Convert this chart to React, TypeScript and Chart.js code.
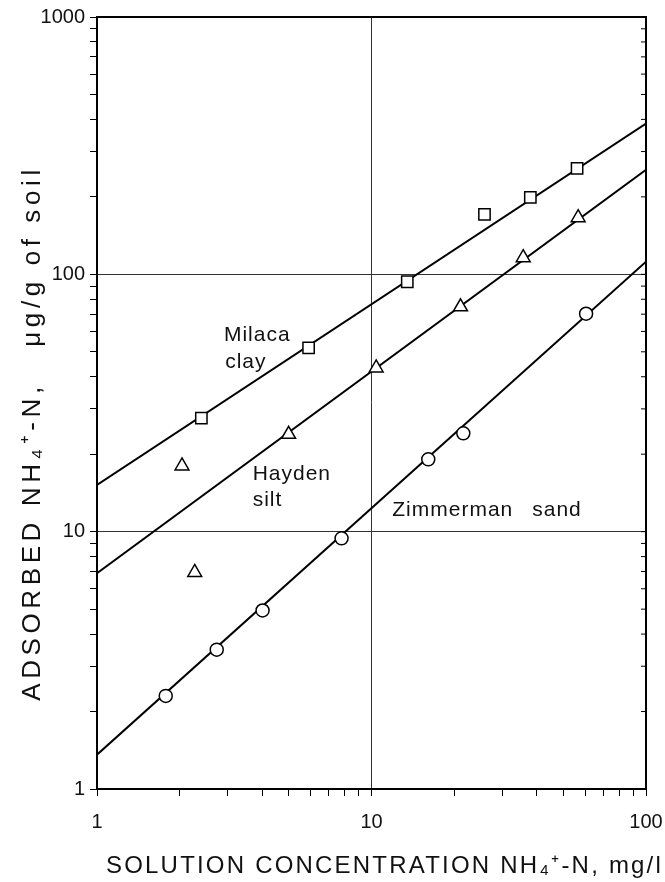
import React, { useEffect, useRef } from 'react';
import { Chart, registerables } from 'chart.js';

Chart.register(...registerables);

// Measured points (solution conc. mg/l, adsorbed µg/g)
const milacaX = [2.4, 5.9, 13.5, 25.8, 37.9, 56.1];
const milacaY = [27.6, 51.8, 93.6, 171, 199, 258];
const haydenX = [2.04, 2.27, 4.99, 10.4, 21.1, 35.7, 56.6];
const haydenY = [18.0, 6.94, 23.9, 43.3, 74.8, 116, 166];
const zimX = [1.78, 2.73, 4.01, 7.78, 16.1, 21.6, 60.5];
const zimY = [2.3, 3.48, 4.94, 9.42, 19.1, 24.1, 70.3];
const zimDotX = [21.6];
const zimDotY = [24.1];

// Fitted isotherm lines (end points at x = 1 and x = 100)
const fitX = [1, 100];
const milacaFit = [15.2, 385];
const haydenFit = [6.9, 255];
const zimFit = [1.36, 112];

// Axis ticks
const xTickValues = [1, 2, 3, 4, 5, 6, 7, 8, 9, 10, 20, 30, 40, 50, 60, 70, 80, 90, 100];
const yTickValues = [1, 2, 3, 4, 5, 6, 7, 8, 9, 10, 20, 30, 40, 50, 60, 70, 80, 90, 100, 200, 300, 400, 500, 600, 700, 800, 900, 1000];
const xTickLabels = ['1', '10', '100'];
const yTickLabels = ['1', '10', '100', '1000'];
const xGridValues = [10];
const yGridValues = [10, 100];

const xTitle = 'SOLUTION CONCENTRATION NH\u2084\u207A-N, mg/l';
const yTitle = 'ADSORBED NH\u2084\u207A-N,   \u03BCg/g of soil';

const curveLabels = [
  { text: 'Milaca', x: 2.9, y: 58 },
  { text: 'clay', x: 2.93, y: 45.7 },
  { text: 'Hayden', x: 3.69, y: 16.7 },
  { text: 'silt', x: 3.69, y: 13.2 },
  { text: 'Zimmerman', x: 11.9, y: 12.1 },
  { text: 'sand', x: 38.5, y: 12.1 },
];

const FONT = '"Liberation Sans", Arial, sans-serif';

const toPts = (xs: number[], ys: number[]) => xs.map((x, i) => ({ x, y: ys[i] }));

export default function App() {
  const ref = useRef<HTMLCanvasElement | null>(null);

  useEffect(() => {
    document.body.style.margin = '0';
    const canvas = ref.current;
    if (!canvas) return;

    const decor = {
      id: 'decor',
      afterDraw(chart: any) {
        const { ctx, chartArea, scales } = chart;
        const { left, right, top, bottom } = chartArea;
        ctx.save();
        // frame top/right
        ctx.strokeStyle = '#000';
        ctx.lineWidth = 2;
        ctx.beginPath();
        ctx.moveTo(left, top);
        ctx.lineTo(right, top);
        ctx.lineTo(right, bottom);
        ctx.stroke();
        // right-side small ticks
        ctx.lineWidth = 1;
        for (const v of yTickValues) {
          const py = scales.y.getPixelForValue(v);
          ctx.beginPath();
          ctx.moveTo(right, py);
          ctx.lineTo(right - 5, py);
          ctx.stroke();
        }
        // curve labels
        ctx.fillStyle = '#111';
        ctx.font = `21px ${FONT}`;
        (ctx as any).letterSpacing = '1px';
        ctx.textAlign = 'left';
        ctx.textBaseline = 'middle';
        for (const l of curveLabels) {
          ctx.fillText(l.text, scales.x.getPixelForValue(l.x), scales.y.getPixelForValue(l.y));
        }
        // axis titles
        ctx.font = `24px ${FONT}`;
        (ctx as any).letterSpacing = '2.2px';
        ctx.textAlign = 'center';
        ctx.fillText(xTitle, (left + right) / 2 + 13, chart.height - 16);
        ctx.save();
        ctx.translate(33, (top + bottom) / 2 + 30);
        ctx.rotate(-Math.PI / 2);
        ctx.font = `26px ${FONT}`;
        (ctx as any).letterSpacing = '4.6px';
        ctx.fillText(yTitle, 0, 0);
        ctx.restore();
        ctx.restore();
      },
    };

    const marker = {
      borderColor: '#000',
      backgroundColor: '#fff',
      borderWidth: 1.5,
      showLine: false,
    };
    const fitLine = {
      borderColor: '#000',
      borderWidth: 2,
      pointRadius: 0,
      showLine: true,
      order: 1,
    };

    const chart = new Chart(canvas, {
      type: 'scatter',
      data: {
        datasets: [
          { label: 'Milaca clay', data: toPts(milacaX, milacaY), pointStyle: 'rect', pointRadius: 8, ...marker },
          { label: 'Hayden silt', data: toPts(haydenX, haydenY), pointStyle: 'triangle', pointRadius: 8, ...marker },
          { label: 'Zimmerman sand', data: toPts(zimX, zimY), pointStyle: 'circle', pointRadius: 6.5, ...marker },
          { label: 'dot', data: toPts(zimDotX, zimDotY), pointStyle: 'circle', pointRadius: 1.2, borderColor: '#000', backgroundColor: '#000', borderWidth: 0 },
          { label: 'Milaca fit', data: toPts(fitX, milacaFit), ...fitLine },
          { label: 'Hayden fit', data: toPts(fitX, haydenFit), ...fitLine },
          { label: 'Zimmerman fit', data: toPts(fitX, zimFit), ...fitLine },
        ],
      },
      options: {
        responsive: false,
        animation: false,
        layout: { padding: { left: 0, top: 17, right: 19, bottom: 0 } },
        plugins: { legend: { display: false }, tooltip: { enabled: false } },
        scales: {
          x: {
            type: 'logarithmic',
            min: 1,
            max: 100,
            afterBuildTicks: (s: any) => { s.ticks = xTickValues.map((v) => ({ value: v })); },
            afterFit: (s: any) => { s.height = 93; s.paddingLeft = 0; s.paddingRight = 0; },
            ticks: {
              autoSkip: false,
              maxRotation: 0,
              padding: 14,
              color: '#111',
              font: { family: FONT, size: 20 },
              callback: (v: any) => { const s = String(v); return xTickLabels.includes(s) ? s : ''; },
            },
            grid: {
              color: (c: any) => (xGridValues.includes(c.tick?.value) ? '#333' : 'rgba(0,0,0,0)'),
              tickColor: '#000',
              tickLength: 7,
              lineWidth: 1,
            },
            border: { display: true, color: '#000', width: 2 },
          },
          y: {
            type: 'logarithmic',
            min: 1,
            max: 1000,
            afterBuildTicks: (s: any) => { s.ticks = yTickValues.map((v) => ({ value: v })); },
            afterFit: (s: any) => { s.width = 97; s.paddingTop = 0; s.paddingBottom = 0; },
            ticks: {
              autoSkip: false,
              padding: 5,
              color: '#111',
              font: { family: FONT, size: 20 },
              callback: (v: any) => { const s = String(v); return yTickLabels.includes(s) ? s : ''; },
            },
            grid: {
              color: (c: any) => (yGridValues.includes(c.tick?.value) ? '#333' : 'rgba(0,0,0,0)'),
              tickColor: '#000',
              tickLength: 7,
              lineWidth: 1,
            },
            border: { display: true, color: '#000', width: 2 },
          },
        },
      },
      plugins: [decor],
    });

    return () => chart.destroy();
  }, []);

  return <canvas ref={ref} width={665} height={882} style={{ display: 'block' }} />;
}
